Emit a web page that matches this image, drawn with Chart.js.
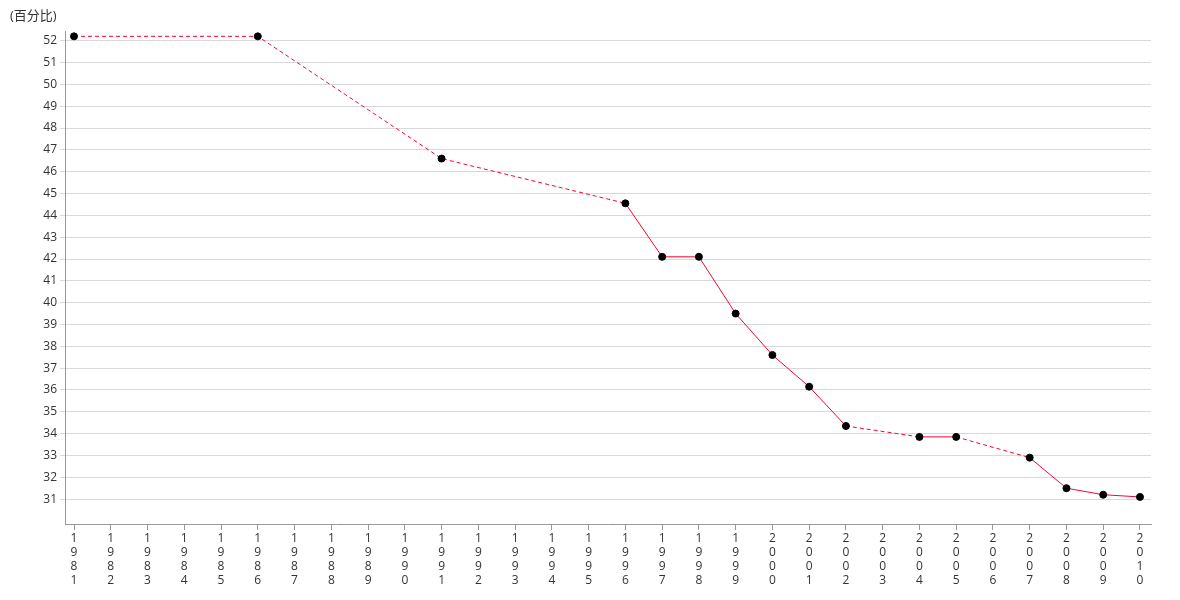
<!DOCTYPE html>
<html>
<head>
<meta charset="utf-8">
<script src="https://cdn.jsdelivr.net/npm/chart.js@4.4.0/dist/chart.umd.min.js"></script>
<style>
html,body{margin:0;padding:0;background:#fff;}
#wrap{width:1180px;height:600px;}
</style>
</head>
<body>
<div id="wrap"><canvas id="c" width="1180" height="600"></canvas></div>
<script>
const years = [1981, 1986, 1991, 1996, 1997, 1998, 1999, 2000, 2001, 2002, 2004, 2005, 2007, 2008, 2009, 2010];
const values = [52.2, 52.2, 46.6, 44.55, 42.1, 42.1, 39.5, 37.6, 36.15, 34.35, 33.85, 33.85, 32.9, 31.5, 31.2, 31.1];
const unitLabel = '(百分比)';
const xTickYears = [1981,1982,1983,1984,1985,1986,1987,1988,1989,1990,1991,1992,1993,1994,1995,1996,1997,1998,1999,2000,2001,2002,2003,2004,2005,2006,2007,2008,2009,2010];
const yTickValues = [31,32,33,34,35,36,37,38,39,40,41,42,43,44,45,46,47,48,49,50,51,52];

const FONT = '"Open Sans", "Noto Sans", "Noto Sans CJK SC", sans-serif';

const unitPlugin = {
  id: 'unitLabel',
  afterDraw(chart) {
    const ctx = chart.ctx;
    ctx.save();
    ctx.font = '13px ' + FONT;
    ctx.fillStyle = '#333';
    ctx.textAlign = 'left';
    ctx.textBaseline = 'middle';
    ctx.fillText(unitLabel, 10, 16);
    ctx.restore();
  }
};

new Chart(document.getElementById('c'), {
  type: 'line',
  data: {
    datasets: [{
      data: years.map((y, i) => ({x: y, y: values[i]})),
      borderColor: '#ff0033',
      borderWidth: 1,
      pointRadius: 3.5,
      pointHoverRadius: 3.5,
      pointBackgroundColor: '#000',
      pointBorderColor: '#000',
      pointBorderWidth: 1,
      tension: 0,
      segment: {
        borderDash: ctx => (ctx.p1.parsed.x - ctx.p0.parsed.x > 1 ? [4, 3] : undefined)
      }
    }]
  },
  options: {
    responsive: false,
    animation: false,
    layout: {padding: {left: 10, right: 29, top: 31, bottom: 0}},
    plugins: {legend: {display: false}, tooltip: {enabled: false}},
    scales: {
      x: {
        type: 'linear',
        min: 1980.755,
        max: 2010.3,
        afterFit: s => { s.height = 76; },
        afterBuildTicks: axis => { axis.ticks = xTickYears.map(v => ({value: v})); },
        grid: {display: true, drawOnChartArea: false, drawTicks: true, tickLength: 6, color: '#999'},
        border: {display: true, color: '#999', width: 1},
        ticks: {
          autoSkip: false,
          maxRotation: 0,
          minRotation: 0,
          padding: 2,
          color: '#333',
          font: {family: FONT, size: 12, lineHeight: 1.15},
          callback: v => String(v).split('')
        }
      },
      y: {
        min: 29.86,
        max: 52.445,
        afterFit: s => { s.width = 55; },
        afterBuildTicks: axis => { axis.ticks = yTickValues.map(v => ({value: v})); },
        grid: {color: '#d9d9d9', drawTicks: true, tickLength: 5, lineWidth: 1},
        border: {display: true, color: '#999', width: 1},
        ticks: {
          padding: 3,
          color: '#333',
          font: {family: FONT, size: 12},
          callback: v => String(v)
        }
      }
    }
  },
  plugins: [unitPlugin]
});
</script>
</body>
</html>
